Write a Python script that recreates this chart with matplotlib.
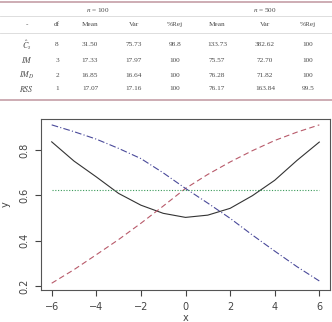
import numpy as np
import matplotlib.pyplot as plt
from matplotlib.lines import Line2D

plt.rcParams["mathtext.fontset"] = "stix"

# -------- Table data --------
col_heads = ["-", "df", "Mean", "Var", "%Rej", "Mean", "Var", "%Rej"]
row_names = [r"$\hat{C}_s$", r"$IM$", r"$IM_D$", r"$RSS$"]
df_vals = ["8", "3", "2", "1"]
n100 = [["31.50", "75.73", "98.8"],
        ["17.33", "17.97", "100"],
        ["16.85", "16.64", "100"],
        ["17.07", "17.16", "100"]]
n500 = [["133.73", "382.62", "100"],
        ["75.57", "72.70", "100"],
        ["76.28", "71.82", "100"],
        ["76.17", "163.84", "99.5"]]

# -------- Curve data --------
x = [-6, -5, -4, -3, -2, -1, 0, 1, 2, 3, 4, 5, 6]
y_solid = [0.837, 0.752, 0.682, 0.609, 0.557, 0.521, 0.503, 0.513, 0.543, 0.599, 0.667, 0.755, 0.836]
y_red = [0.212, 0.272, 0.338, 0.405, 0.477, 0.553, 0.631, 0.693, 0.748, 0.798, 0.843, 0.880, 0.912]
y_blue = [0.912, 0.882, 0.849, 0.808, 0.763, 0.700, 0.631, 0.566, 0.499, 0.425, 0.354, 0.285, 0.222]
y_green = [0.625, 0.625]
x_green = [-6, 6]

W, H = 332, 322
fig = plt.figure(figsize=(W / 100, H / 100), dpi=100)


def fx(px):
    return px / W


def fy(py):
    return 1 - py / H


# -------- Table --------
serif = "Liberation Serif"
tfs = 5.2
tcol = "#4a4a4a"
for py, col, lw in [(1.5, "#c9a6ae", 1.3), (16, "#d8d8d8", 0.6), (33, "#d8d8d8", 0.6), (100, "#c9a6ae", 1.3)]:
    fig.add_artist(Line2D([0, 1], [fy(py), fy(py)], color=col, lw=lw, transform=fig.transFigure))

fig.text(fx(98), fy(10), r"$n$ = 100", ha="center", va="center", fontsize=tfs, family=serif, color=tcol)
fig.text(fx(265), fy(10), r"$n$ = 500", ha="center", va="center", fontsize=tfs, family=serif, color=tcol)

col_x = [27, 57, 90, 134, 175, 217, 265, 308]
for cx, h in zip(col_x, col_heads):
    fig.text(fx(cx), fy(24.5), h, ha="center", va="center", fontsize=tfs, family=serif, color=tcol)

row_y = [45, 60, 75, 89]
for i, ry in enumerate(row_y):
    cells = [row_names[i], df_vals[i]] + n100[i] + n500[i]
    for j, (cx, c) in enumerate(zip(col_x, cells)):
        fs = tfs + 0.6 if j == 0 else tfs
        fig.text(fx(cx), fy(ry), c, ha="center", va="center", fontsize=fs, family=serif, color=tcol)

# -------- Plot --------
ax = fig.add_axes([fx(41), fy(290), fx(330) - fx(41), fy(119) - fy(290)])
ax.plot(x, y_solid, color="#333333", lw=0.8, ls="-")
ax.plot(x, y_red, color="#b85a6a", lw=0.8, ls=(0, (5, 3)))
ax.plot(x, y_blue, color="#4a4a9a", lw=0.8, ls=(0, (6, 2, 1, 2)))
ax.plot(x_green, y_green, color="#3a9a5a", lw=0.8, ls=(0, (1, 1.5)))

ax.set_xlim(-6.48, 6.48)
ax.set_ylim(0.182, 0.938)
ax.set_xticks([-6, -4, -2, 0, 2, 4, 6])
ax.set_yticks([0.2, 0.4, 0.6, 0.8])
ax.set_yticklabels(["0.2", "0.4", "0.6", "0.8"], rotation=90, va="center")
for s in ax.spines.values():
    s.set_color("#555555")
    s.set_linewidth(0.8)
ax.tick_params(labelsize=7, length=4.5, width=0.8, colors="#444444", pad=4)
ax.set_xlabel("x", fontsize=7, color="#444444", labelpad=1)
ax.set_ylabel("y", fontsize=7, color="#444444", labelpad=6)

plt.savefig("out.png", dpi=100)
